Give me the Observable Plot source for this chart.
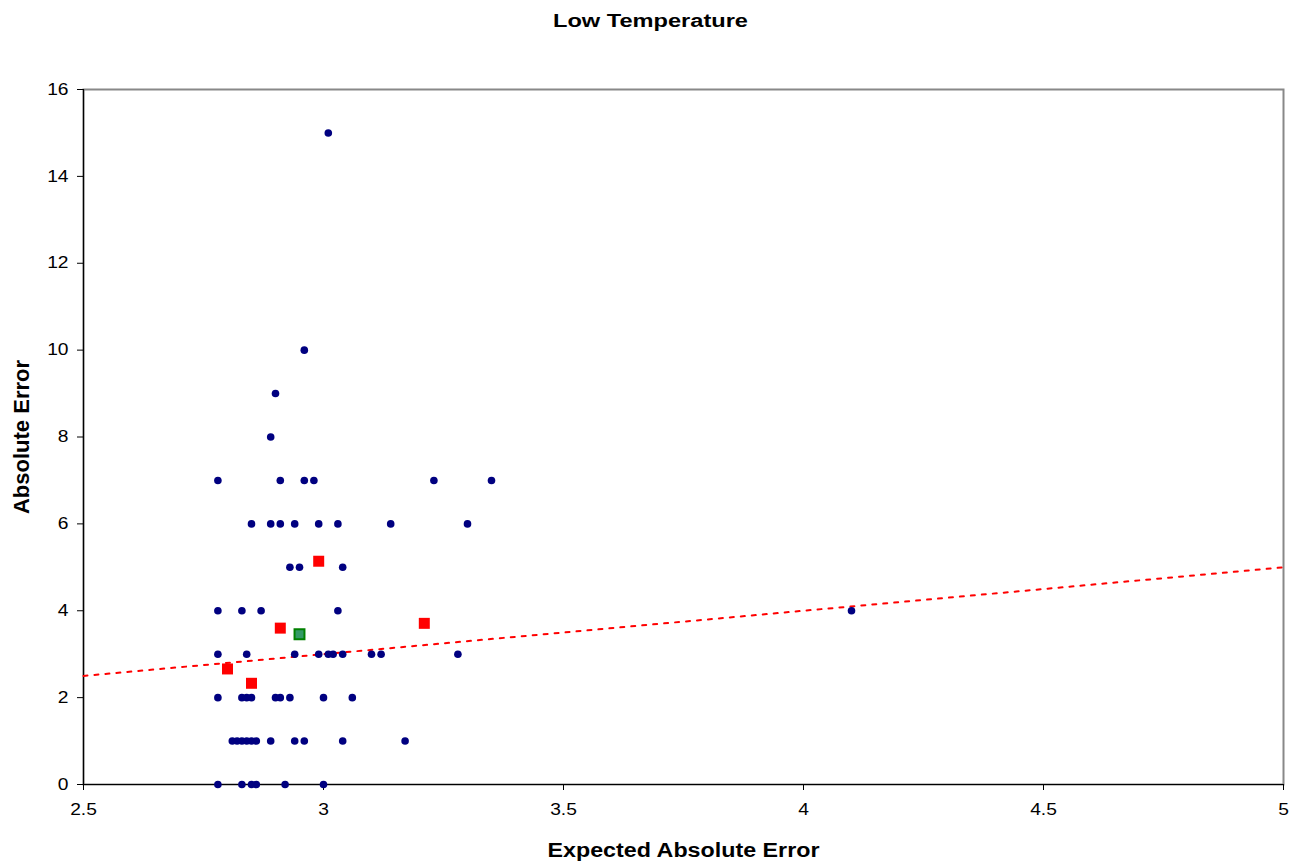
<!DOCTYPE html>
<html>
<head>
<meta charset="utf-8">
<script src="https://cdn.jsdelivr.net/npm/d3@7"></script>
<script src="https://cdn.jsdelivr.net/npm/@observablehq/plot@0.6"></script>
<style>
  html, body { margin: 0; padding: 0; background: #fff; }
  svg { display: block; }
</style>
</head>
<body>
<div id="chart"></div>
<script>
const title = "Low Temperature";
const xLabel = "Expected Absolute Error";
const yLabel = "Absolute Error";

// Observed points (Expected Absolute Error, Absolute Error)
const obsX = [
  3.01,
  2.96,
  2.90,
  2.89,
  2.78, 2.91, 2.96, 2.98, 3.23, 3.35,
  2.85, 2.89, 2.91, 2.94, 2.99, 3.03, 3.14, 3.30,
  2.93, 2.95, 3.04,
  2.78, 2.83, 2.87, 3.03, 4.10,
  2.78, 2.84, 2.94, 2.99, 3.01, 3.02, 3.04, 3.10, 3.12, 3.28,
  2.78, 2.83, 2.84, 2.85, 2.90, 2.91, 2.93, 3.00, 3.06,
  2.81, 2.82, 2.83, 2.84, 2.85, 2.86, 2.89, 2.94, 2.96, 3.04, 3.17,
  2.78, 2.83, 2.85, 2.86, 2.92, 3.00
];
const obsY = [
  15,
  10,
  9,
  8,
  7, 7, 7, 7, 7, 7,
  6, 6, 6, 6, 6, 6, 6, 6,
  5, 5, 5,
  4, 4, 4, 4, 4,
  3, 3, 3, 3, 3, 3, 3, 3, 3, 3,
  2, 2, 2, 2, 2, 2, 2, 2, 2,
  1, 1, 1, 1, 1, 1, 1, 1, 1, 1, 1,
  0, 0, 0, 0, 0, 0
];

// Binned averages (red squares)
const binX = [2.99, 2.91, 3.21, 2.80, 2.85];
const binY = [5.14, 3.60, 3.71, 2.66, 2.33];

// Overall average (green square)
const meanX = [2.95];
const meanY = [3.46];

// Reference line y = x
const refX = [2.5, 5];
const refY = [2.5, 5];

const xTicks = [2.5, 3, 3.5, 4, 4.5, 5];
const yTicks = [0, 2, 4, 6, 8, 10, 12, 14, 16];

const obs = obsX.map((x, i) => ({x, y: obsY[i]}));
const bins = binX.map((x, i) => ({x, y: binY[i]}));
const means = meanX.map((x, i) => ({x, y: meanY[i]}));
const ref = refX.map((x, i) => ({x, y: refY[i]}));

const chart = Plot.plot({
  width: 1299,
  height: 867,
  marginLeft: 83,
  marginRight: 16,
  marginTop: 89,
  marginBottom: 83,
  style: {fontFamily: "Arial, 'Liberation Sans', sans-serif", fontSize: "16px", background: "#fff", color: "#000"},
  x: {domain: [2.5, 5]},
  y: {domain: [0, 16]},
  marks: [
    Plot.frame({stroke: "#888", strokeWidth: 2}),
    Plot.ruleX([2.5], {stroke: "#000", strokeWidth: 1.2}),
    Plot.ruleY([0], {stroke: "#000", strokeWidth: 1.2}),
    Plot.axisX({ticks: xTicks, tickFormat: d => String(d), tickSize: 6, tickPadding: 13, fontSize: 16,
      label: xLabel, labelAnchor: "center", labelArrow: "none", labelOffset: 72}),
    Plot.axisY({ticks: yTicks, tickFormat: d => String(d), tickSize: 6, tickPadding: 9, fontSize: 16,
      label: yLabel, labelAnchor: "center", labelArrow: "none", labelOffset: 70}),
    Plot.line(ref, {x: "x", y: "y", stroke: "#ff0000", strokeWidth: 2, strokeDasharray: "4,7"}),
    Plot.dot(obs, {x: "x", y: "y", r: 3.8, fill: "#000080", stroke: "none"}),
    Plot.dot(bins, {x: "x", y: "y", symbol: "square", r: 6.2, fill: "#ff0000", stroke: "none"}),
    Plot.dot(means, {x: "x", y: "y", symbol: "square", r: 5.6, fill: "#339966", stroke: "#008000", strokeWidth: 2}),
    Plot.text([title], {frameAnchor: "top", dx: -33, dy: -75, fontSize: 18, fontWeight: "bold"})
  ]
});

document.getElementById("chart").append(chart);

// Emulate the horizontally stretched rendering of the original chart
function stretch(t, factor, fixed) {
  const len = t.getComputedTextLength();
  if (!len) return;
  t.setAttribute("textLength", fixed != null ? fixed : len * factor);
  t.setAttribute("lengthAdjust", "spacingAndGlyphs");
}
chart.querySelectorAll("g[aria-label='x-axis label'] text").forEach(t => {
  t.setAttribute("font-weight", "bold");
  t.setAttribute("font-size", "20");
  stretch(t, 1, 272);
});
chart.querySelectorAll("g[aria-label='y-axis label'] text").forEach(t => {
  t.setAttribute("font-weight", "bold");
  t.setAttribute("font-size", "22");
});
chart.querySelectorAll("g[aria-label='x-axis tick label'] text, g[aria-label='y-axis tick label'] text").forEach(t => {
  t.setAttribute("font-size", "16");
  stretch(t, 1.2);
});
chart.querySelectorAll("g[aria-label='text'] text").forEach(t => stretch(t, 1, 195));
</script>
</body>
</html>
